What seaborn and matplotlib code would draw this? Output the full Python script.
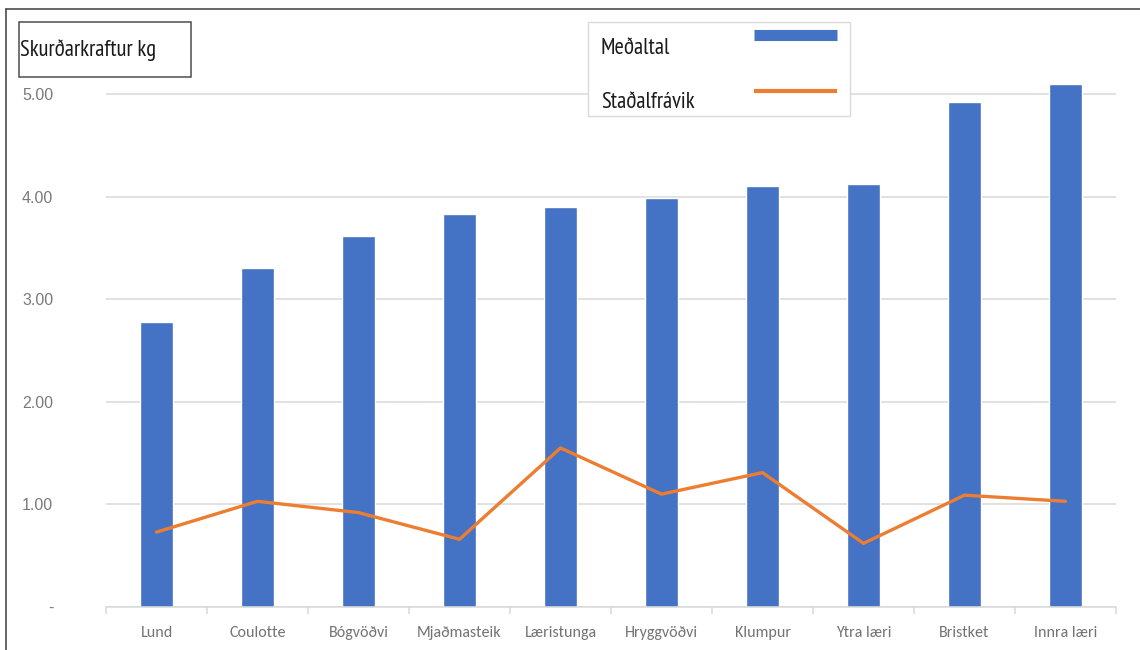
import numpy as np
import pandas as pd
import matplotlib
matplotlib.use("Agg")
import matplotlib.pyplot as plt
import seaborn as sns
from matplotlib import font_manager
from matplotlib.lines import Line2D
from matplotlib.patches import Rectangle

categories = ["Lund", "Coulotte", "Bógvöðvi", "Mjaðmasteik", "Læristunga",
              "Hryggvöðvi", "Klumpur", "Ytra læri", "Bristket", "Innra læri"]
medaltal = [2.78, 3.30, 3.62, 3.83, 3.90, 3.99, 4.10, 4.12, 4.92, 5.10]
stadalfravik = [0.73, 1.03, 0.92, 0.66, 1.55, 1.10, 1.31, 0.62, 1.09, 1.03]
y_ticks = [0, 1, 2, 3, 4, 5]
y_tick_labels = ["-", "1.00", "2.00", "3.00", "4.00", "5.00"]
title_text = "Skurðarkraftur kg"
legend_labels = ["Meðaltal", "Staðalfrávik"]

BLUE = "#4472C4"
ORANGE = "#ED7D31"
GRID = "#d9d9d9"

sns.set_theme(style="white")
names = {f.name for f in font_manager.fontManager.ttflist}


def pick(cands, default):
    for c in cands:
        if c in names:
            return c
    return default


narrow = pick(["PT Sans Narrow", "Roboto Condensed", "Open Sans Condensed",
               "Archivo Narrow", "Fira Sans Condensed", "Liberation Sans Narrow"],
              "Liberation Sans")
big_fs = 16.3 if narrow != "Liberation Sans" else 13.0
label_font = pick(["Carlito", "Open Sans"], "DejaVu Sans")
label_fs = 11.5 if label_font == "Carlito" else 10
plt.rcParams["font.family"] = ["Liberation Sans", "DejaVu Sans"]

W, H = 1140, 650
fig = plt.figure(figsize=(11.4, 6.5), dpi=100)
fig.patch.set_facecolor("white")


def fx(px):
    return px / W


def fy(py):
    return 1 - py / H


ymax = 5.3
unit = 102.6
base_px = 607
top_px = base_px - ymax * unit
ax = fig.add_axes([fx(106), fy(base_px), fx(1116) - fx(106), (base_px - top_px) / H])

df = pd.DataFrame({"kategoria": categories,
                   "Meðaltal": medaltal,
                   "Staðalfrávik": stadalfravik})

sns.barplot(data=df, x="kategoria", y="Meðaltal", color=BLUE, width=0.32,
            saturation=1, ax=ax, zorder=2)
sns.lineplot(x=np.arange(len(categories)), y=df["Staðalfrávik"].values,
             color=ORANGE, lw=2.4, ax=ax, zorder=3)

ax.set_xlim(-0.5, len(categories) - 0.5)
ax.set_ylim(0, ymax)
ax.set_xlabel("")
ax.set_ylabel("")

ax.set_yticks(y_ticks)
ax.set_yticklabels(y_tick_labels)
ax.yaxis.grid(True, color=GRID, lw=1.1)
ax.xaxis.grid(False)
ax.set_axisbelow(True)

for s in ["left", "right", "top"]:
    ax.spines[s].set_visible(False)
ax.spines["bottom"].set_color(GRID)
ax.spines["bottom"].set_linewidth(1.1)

ax.set_xticks(range(len(categories)))
ax.set_xticklabels(categories)
ax.set_xticks(np.arange(-0.5, len(categories), 1.0), minor=True)
ax.tick_params(axis="x", which="major", length=0, pad=14, labelsize=label_fs,
               labelcolor="#737373")
ax.tick_params(axis="x", which="minor", length=5, width=1.1, color=GRID,
               direction="out", bottom=True)
for t in ax.get_xticklabels():
    t.set_family([label_font, "DejaVu Sans"])
ax.tick_params(axis="y", which="major", length=0, pad=38, labelsize=11.5,
               labelcolor="#7a7a7a")

# outer frame (partially visible, cropped on right and bottom)
fig.add_artist(Line2D([fx(5.5), fx(5.5)], [fy(9), fy(660)], color="#4d4d4d",
                      lw=1.2, transform=fig.transFigure))
fig.add_artist(Line2D([fx(5.5), fx(1150)], [fy(9), fy(9)], color="#4d4d4d",
                      lw=1.2, transform=fig.transFigure))

# title box
fig.add_artist(Rectangle((fx(19), fy(77)), fx(191) - fx(19), (77 - 22) / H,
                         fill=False, ec="#4d4d4d", lw=1.1,
                         transform=fig.transFigure))
fig.text(fx(20.5), fy(50), title_text, fontsize=big_fs,
         family=[narrow, "DejaVu Sans"], va="center", ha="left",
         color="#1a1a1a")

# legend box
fig.add_artist(Rectangle((fx(588), fy(116)), fx(850) - fx(588), (116 - 22) / H,
                         facecolor="white", ec=GRID, lw=1.0,
                         transform=fig.transFigure, zorder=5))
fig.text(fx(601), fy(49), legend_labels[0], fontsize=big_fs,
         family=[narrow, "DejaVu Sans"], va="center", ha="left",
         color="#1a1a1a", zorder=6)
fig.text(fx(601), fy(103), legend_labels[1], fontsize=big_fs,
         family=[narrow, "DejaVu Sans"], va="center", ha="left",
         color="#1a1a1a", zorder=6)
fig.add_artist(Line2D([fx(754), fx(837)], [fy(34.5), fy(34.5)], color=BLUE,
                      lw=8.0, solid_capstyle="butt",
                      transform=fig.transFigure, zorder=6))
fig.add_artist(Line2D([fx(754), fx(837)], [fy(90.5), fy(90.5)], color=ORANGE,
                      lw=3.0, solid_capstyle="butt",
                      transform=fig.transFigure, zorder=6))

fig.savefig("out.png", dpi=100, facecolor="white")
